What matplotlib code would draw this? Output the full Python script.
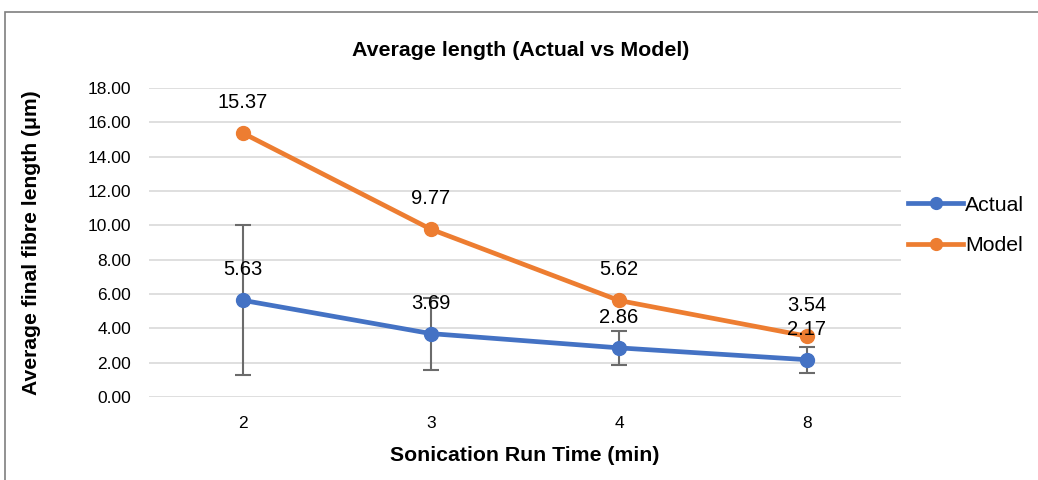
import matplotlib
matplotlib.use('Agg')
import matplotlib.pyplot as plt
from matplotlib.patches import Rectangle

plt.rcParams['font.family'] = ['Liberation Sans', 'DejaVu Sans']

# data
categories = ['2', '3', '4', '8']
actual = [5.63, 3.69, 2.86, 2.17]
actual_err = [4.37, 2.1, 1.01, 0.75]
model = [15.37, 9.77, 5.62, 3.54]

blue = '#4472C4'
orange = '#ED7D31'

fig = plt.figure(figsize=(10.38, 4.8), dpi=100)
ax = fig.add_axes([0.1435, 0.173, 0.7245, 0.6437])

x = list(range(len(categories)))

ax.errorbar(x, actual, yerr=actual_err, fmt='none', ecolor='#6b6b6b',
            elinewidth=1.5, capsize=6, capthick=1.5, zorder=2)
ax.plot(x, model, color=orange, lw=3.4, marker='o', ms=10, label='Model', zorder=3)
ax.plot(x, actual, color=blue, lw=3.4, marker='o', ms=10, label='Actual', zorder=4)

for xi, v in zip(x, actual):
    ax.annotate(f'{v:.2f}', (xi, v), xytext=(0, 22), textcoords='offset points',
                ha='center', va='center', fontsize=14.5, color='#000000', zorder=5)
for xi, v in zip(x, model):
    ax.annotate(f'{v:.2f}', (xi, v), xytext=(0, 22), textcoords='offset points',
                ha='center', va='center', fontsize=14.5, color='#000000', zorder=5)

ax.set_xlim(-0.5, len(categories) - 0.5)
ax.set_ylim(0, 18)
ax.set_yticks([0, 2, 4, 6, 8, 10, 12, 14, 16, 18])
ax.set_yticklabels([f'{t:.2f}' for t in ax.get_yticks()])
ax.set_xticks(x)
ax.set_xticklabels(categories)
ax.tick_params(axis='both', length=0, labelsize=12.5, colors='#000000')
ax.tick_params(axis='y', pad=13)
ax.tick_params(axis='x', pad=14)
ax.grid(axis='y', color='#d9d9d9', lw=1.2)
ax.set_axisbelow(True)
for s in ax.spines.values():
    s.set_visible(False)

fig.text(0.502, 1 - 50 / 480, 'Average length (Actual vs Model)', fontsize=15.4,
         fontweight='bold', ha='center', va='center')
ax.set_xlabel('Sonication Run Time (min)', fontsize=15.3, fontweight='bold')
ax.set_ylabel('Average final fibre length (μm)', fontsize=15.2, fontweight='bold')
ax.xaxis.set_label_coords(0.5, -0.16)
ax.yaxis.set_label_coords(-0.144, 0.5)

handles, labels = ax.get_legend_handles_labels()
ax.legend(handles[::-1], labels[::-1], loc='center left', bbox_to_anchor=(0.984, 0.555),
          frameon=False, fontsize=15.3, handlelength=2.6, labelspacing=1.0,
          handletextpad=0.1, markerscale=0.85)

# outer chart frame
fig.patches.append(Rectangle((5 / 1038, -0.1), 1.2, 1 - 12 / 480 + 0.1,
                             transform=fig.transFigure, fill=False,
                             edgecolor='#7f7f7f', lw=1.2))

fig.savefig('out.png', dpi=100)
